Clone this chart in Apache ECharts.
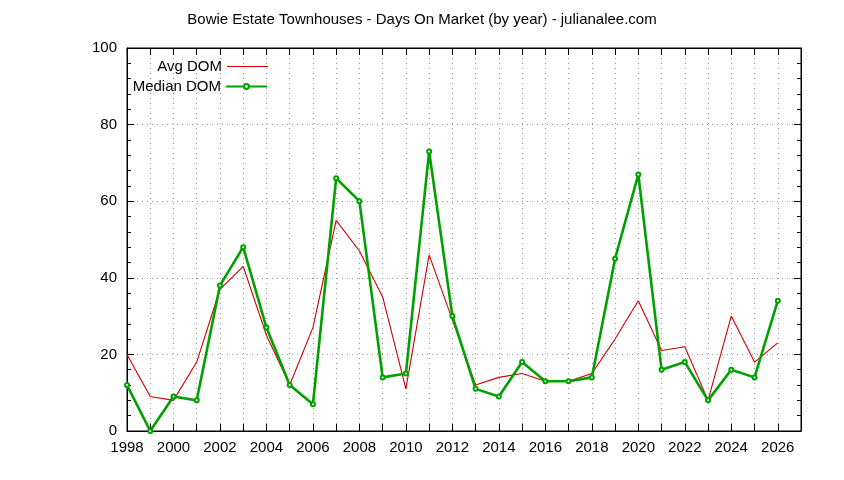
<!DOCTYPE html>
<html>
<head>
<meta charset="utf-8">
<script src="https://cdn.jsdelivr.net/npm/echarts@6/dist/echarts.min.js"></script>
<style>
  html, body { margin: 0; padding: 0; background: #fff; }
  #chart { width: 844px; height: 480px; }
</style>
</head>
<body>
<div id="chart"></div>
<script>
var years = [1998, 1999, 2000, 2001, 2002, 2003, 2004, 2005, 2006, 2007, 2008, 2009, 2010, 2011, 2012,
             2013, 2014, 2015, 2016, 2017, 2018, 2019, 2020, 2021, 2022, 2023, 2024, 2025, 2026];
var avgDom = [20, 9, 8, 18, 37, 43, 25, 12, 27, 55, 47, 35, 11, 46, 29,
              12, 14, 15, 13, 13, 15, 24, 34, 21, 22, 8, 30, 18, 23];
var medianDom = [12, 0, 9, 8, 38, 48, 27, 12, 7, 66, 60, 14, 15, 73, 30,
                 11, 9, 18, 13, 13, 14, 45, 67, 16, 18, 8, 16, 14, 34];

function pairs(vals) {
  var out = [];
  for (var i = 0; i < years.length; i++) {
    out.push([years[i], vals[i]]);
  }
  return out;
}

var font = 'Liberation Sans';
var chart = echarts.init(document.getElementById('chart'));

var tickBase = { show: true, inside: true, length: 7, lineStyle: { color: '#000', width: 1 } };

chart.setOption({
  animation: false,
  textStyle: { fontFamily: font },
  title: {
    text: 'Bowie Estate Townhouses - Days On Market (by year) - julianalee.com',
    left: 'center',
    top: 7,
    textStyle: { fontFamily: font, fontSize: 15, fontWeight: 'normal', color: '#000' }
  },
  grid: {
    left: 127, right: 43, top: 48, bottom: 49,
    show: true, borderColor: '#000', borderWidth: 1, backgroundColor: 'transparent'
  },
  legend: [
    {
      data: [{ name: 'Avg DOM', icon: 'rect' }],
      right: 571, top: 54,
      align: 'right', itemWidth: 41, itemHeight: 1, itemGap: 4,
      textStyle: { fontFamily: font, fontSize: 15, color: '#000' }
    },
    {
      data: ['Median DOM'],
      right: 571, top: 74,
      align: 'right', itemWidth: 41, itemHeight: 6, itemGap: 4,
      textStyle: { fontFamily: font, fontSize: 15, color: '#000' }
    }
  ],
  xAxis: [
    {
      type: 'value', min: 1998, max: 2027, interval: 1,
      axisLine: { show: true, onZero: false, lineStyle: { color: '#000' } },
      axisTick: tickBase,
      axisLabel: {
        color: '#000', fontSize: 15, fontFamily: font, margin: 9,
        formatter: function (v) { return (v % 2 === 0 && v <= 2026) ? String(v) : ''; }
      },
      splitLine: { show: true, lineStyle: { color: '#999', type: [1, 4], width: 1 } }
    },
    {
      type: 'value', min: 1998, max: 2027, interval: 1, position: 'top',
      axisLine: { show: true, onZero: false, lineStyle: { color: '#000' } },
      axisTick: tickBase,
      axisLabel: { show: false },
      splitLine: { show: false }
    }
  ],
  yAxis: [
    {
      type: 'value', min: 0, max: 100, interval: 20,
      axisLine: { show: true, onZero: false, lineStyle: { color: '#000' } },
      axisTick: tickBase,
      minorTick: { show: true, splitNumber: 5, length: 4, lineStyle: { color: '#000' } },
      axisLabel: { color: '#000', fontSize: 15, fontFamily: font, margin: 10 },
      splitLine: { show: true, lineStyle: { color: '#999', type: [1, 4], width: 1 } }
    },
    {
      type: 'value', min: 0, max: 100, interval: 20, position: 'right',
      axisLine: { show: true, onZero: false, lineStyle: { color: '#000' } },
      axisTick: tickBase,
      minorTick: { show: true, splitNumber: 5, length: 4, lineStyle: { color: '#000' } },
      axisLabel: { show: false },
      splitLine: { show: false }
    }
  ],
  series: [
    {
      name: 'Avg DOM',
      type: 'line',
      data: pairs(avgDom),
      symbol: 'none',
      color: '#d00000',
      lineStyle: { color: '#d00000', width: 1.1 },
      z: 2
    },
    {
      name: 'Median DOM',
      type: 'line',
      data: pairs(medianDom),
      symbol: 'emptyCircle',
      symbolSize: 4,
      color: '#00a000',
      itemStyle: { color: '#00a000', borderColor: '#00a000', borderWidth: 2 },
      lineStyle: { color: '#00a000', width: 2.6 },
      z: 3
    }
  ]
});
</script>
</body>
</html>
